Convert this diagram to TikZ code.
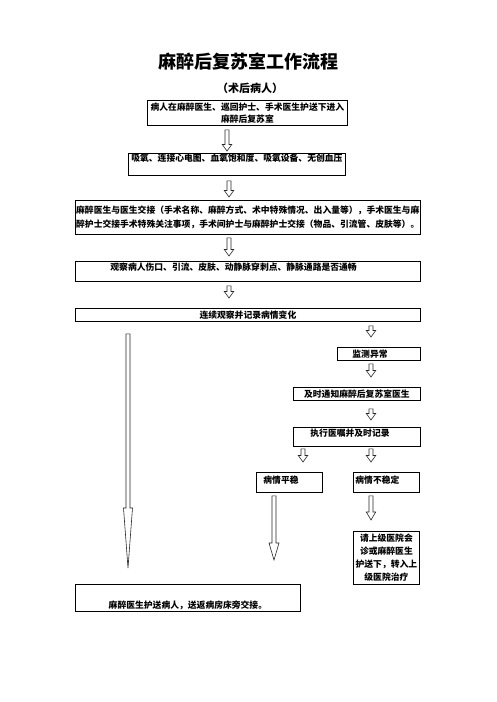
\documentclass[tikz,border=0pt]{standalone}
\usepackage{fontspec}
\newfontfamily\cjk{Noto Sans CJK SC}
\usetikzlibrary{calc}

\tikzset{
  box/.style={draw, line width=0.8pt, anchor=north west, inner sep=0pt,
    font=\cjk\bfseries\fontsize{8.8}{12}\selectfont},
  arrowline/.style={line width=0.6pt, black!85},
}
% start, end, head length, head half width
\newcommand{\hollowarrow}[4]{%
  \draw[arrowline] let \p1=#1, \p2=#2 in
    (\x1-2pt,\y1) -- (\x1-2pt,\y2+#3) -- (\x1-#4,\y2+#3) -- (\x1,\y2)
    -- (\x1+#4,\y2+#3) -- (\x1+2pt,\y2+#3) -- (\x1+2pt,\y1) -- cycle;}

\begin{document}
\begin{tikzpicture}[x=1pt, y=-1pt]
\useasboundingbox (0,0) rectangle (496,702);

\node (title) at (248,62) {\cjk\bfseries\fontsize{18}{18}\selectfont 麻醉后复苏室工作流程};
\node (sub) at (250,88) {\cjk\bfseries\fontsize{11}{11}\selectfont （术后病人）};

\coordinate (ax1) at (227,0); \coordinate (ax) at (229,0);
\coordinate (rx) at (371,0); \coordinate (mx) at (303,0);
\coordinate (px) at (274,0); \coordinate (lx) at (128,0);
\coordinate (pend) at (274,560); \coordinate (lend) at (128,568);

\node[box, minimum width=200, minimum height=25, align=center] (b1) at (147,100)
  {病人在麻醉医生、巡回护士、手术医生护送下进入\\麻醉后复苏室};
\node[box, minimum width=217, text height=8.3pt, text depth=13.7pt] (b2) at (128,153)
  {吸氧、连接心电图、血氧饱和度、吸氧设备、无创血压};
\node[box, text width=343.5pt, inner xsep=0.75pt, minimum height=34, align=left,
  font=\cjk\bfseries\fontsize{8.8}{14}\selectfont] (b3) at (75,200)
  {麻醉医生与医生交接（手术名称、麻醉方式、术中特殊情况、出入量等），手术医生与麻\\
   醉护士交接手术特殊关注事项，手术间护士与麻醉护士交接（物品、引流管、皮肤等）。};
\node[box, text width=275pt, inner xsep=35pt, align=left, text height=9.3pt, text depth=10.7pt]
  (b4) at (75,261) {观察病人伤口、引流、皮肤、动静脉穿刺点、静脉通路是否通畅};
\node[box, minimum width=345, text height=9.8pt, text depth=3.2pt] (b5) at (75,308)
  {连续观察并记录病情变化};
\node[box, text width=53pt, inner xsep=15pt, align=left, text height=9.8pt, text depth=3.2pt]
  (b6) at (337,347) {监测异常};
\node[box, minimum width=127, text height=9.8pt, text depth=3.2pt] (b7) at (293,387)
  {及时通知麻醉后复苏室医生};
\node[box, text width=93pt, inner xsep=17pt, align=left, text height=9.3pt, text depth=9.7pt]
  (b8) at (293,427) {执行医嘱并及时记录};
\node[box, text width=52pt, inner xsep=7pt, align=left, text height=11.3pt, text depth=8.7pt]
  (b9) at (256,472) {病情平稳};
\node[box, text width=62pt, inner xsep=2pt, align=left, text height=11.3pt, text depth=8.7pt]
  (b10) at (353,472) {病情不稳定};
\node[box, minimum width=66, minimum height=53, align=center,
  font=\cjk\bfseries\fontsize{8.8}{13}\selectfont] (b11) at (353,531)
  {请上级医院会\\诊或麻醉医生\\护送下，转入上\\级医院治疗};
\node[box, minimum width=225, text height=24.3pt, text depth=2.7pt] (b12) at (75,584)
  {麻醉医生护送病人，送返病房床旁交接。};

\hollowarrow{($(b1.south -| ax1)+(0,4)$)}{($(b2.north -| ax1)+(0,-2)$)}{6.5pt}{4.7pt}
\hollowarrow{($(b2.south -| ax)+(0,5)$)}{($(b3.north -| ax)+(0,-3)$)}{6.5pt}{4.7pt}
\hollowarrow{($(b3.south -| ax)+(0,3)$)}{($(b4.north -| ax)+(0,-5)$)}{6.5pt}{4.7pt}
\hollowarrow{($(b4.south -| ax)+(0,4)$)}{($(b5.north -| ax)+(0,-10)$)}{6.5pt}{4.7pt}
\hollowarrow{($(b5.south -| rx)+(0,4)$)}{($(b6.north -| rx)+(0,-10)$)}{6.5pt}{4.7pt}
\hollowarrow{($(b6.south -| rx)+(0,3)$)}{($(b7.north -| rx)+(0,-10)$)}{6.5pt}{4.7pt}
\hollowarrow{($(b7.south -| rx)+(0,8)$)}{($(b8.north -| rx)+(0,-7)$)}{6.5pt}{4.7pt}
\hollowarrow{($(b8.south -| mx)+(0,2)$)}{($(b9.north -| mx)+(0,-10)$)}{6.5pt}{4.7pt}
\hollowarrow{($(b8.south -| rx)+(0,2)$)}{($(b10.north -| rx)+(0,-10)$)}{6.5pt}{4.7pt}
\hollowarrow{($(b10.south -| rx)+(0,3)$)}{($(b11.north -| rx)+(0,-11)$)}{8pt}{4.7pt}
\hollowarrow{($(b9.south -| px)+(0,3)$)}{(pend)}{17pt}{5pt}
\hollowarrow{($(b5.south -| lx)+(0,12)$)}{(lend)}{60pt}{4.5pt}

\end{tikzpicture}
\end{document}
